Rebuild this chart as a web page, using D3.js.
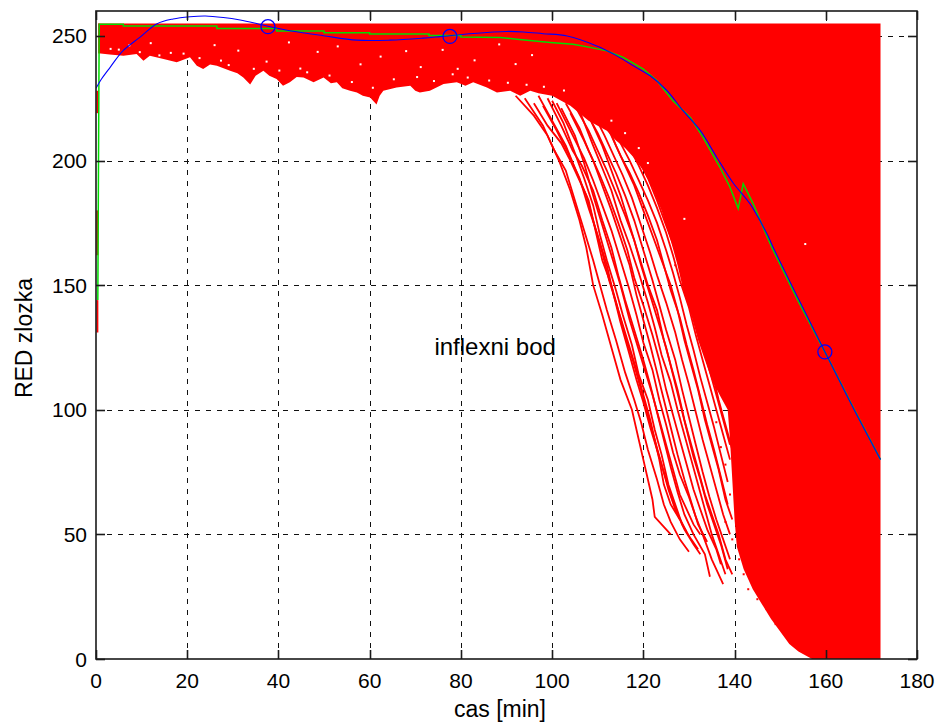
<!DOCTYPE html>
<html>
<head>
<meta charset="utf-8">
<script src="https://cdn.jsdelivr.net/npm/d3@7"></script>
<style>
  html, body { margin: 0; padding: 0; background: #ffffff; }
  svg { display: block; }
  text { font-family: "Liberation Sans", Arial, Helvetica, sans-serif; fill: #000; }
</style>
</head>
<body>
<svg id="chart" width="941" height="724"></svg>
<script>
// ---------------- data ----------------
const xTicks = [0, 20, 40, 60, 80, 100, 120, 140, 160, 180];
const yTicks = [0, 50, 100, 150, 200, 250];
const xLabel = "cas [min]";
const yLabel = "RED zlozka";
const annotation = { text: "inflexni bod", x: 74.2, y: 122 };

// upper edge of the red bundle (saturated value)
const bundleTop = 255;
const bundleStart = 0.5;
// lower envelope of the dense red bundle [time, value]
const bundleLower = [
  [0.5,243],[3,242.5],[6,242],[8.9,242.7],[10.4,240],[11.8,242],[14.8,240.7],[17.7,239.4],
  [20.6,241.4],[22.1,238],[23.5,236.7],[25,238.5],[26.5,238],[29.4,236],[31,235],[32.3,233.3],
  [33.8,230.5],[35,234],[36.7,236],[38,234],[39.6,232.7],[41,230],[42.5,231.4],[44,233.5],
  [45.5,233.3],[47.7,231.4],[49.9,233.3],[51.5,231],[52.8,231.4],[54,229],[55.7,228],[57.2,227.3],
  [58.5,226],[60.1,225.3],[61.5,222.5],[62.2,226],[63,228],[65.9,229.3],[68.9,230],[70,228],
  [71,227.3],[73.2,228],[76.2,230.7],[79.1,231.4],[81,230],[82.7,231.4],[85.7,229.3],[87.9,227.3],
  [90.8,228],[93,226],[95.2,228],[97,227],[100,226],[102,224],[104,222],[106,219],[108,216],
  [110,214],[112,212],[114,208],[116,205],[118,201],[120,196],[122,189],[124,180],[126,168],
  [127.5,158],[129,146],[130.5,138],[132,128],[133.5,120],[135,112],[137,105],
  [138.5,100],[139,88],[139.5,72],[140,56],[140.5,45],[142,36],[144,28],[146,22],[148,16],
  [150,11],[152,6],[154,3],[156,1],[157,0],[172,0]
];
// start-up jumps of individual red series at t≈0
const startSegments = [[228,219],[180,162],[144,131]];

// individual red series that leave the bundle early
const trace1  = [[92,226],[96,218],[99,210],[101.5,200],[104,188],[106,176],[107.5,165],[109,150],[111,138],[113,125],[115,112],[117.5,100],[119,88],[120,80],[121,72],[122,64],[122.5,57],[124.5,53],[126,50]];
const trace2  = [[94,225],[98,214],[100.5,204],[103,196],[105,184],[107,172],[109,160],[110.5,150],[112,140],[114,128],[116,115],[118,104],[119.5,95],[121,84],[123,72],[124.5,62],[126,55],[128,48],[130,43]];
const trace3  = [[97,226],[100,216],[103,206],[105,197],[107.5,186],[109,176],[111,163],[112.5,152],[114,143],[116,130],[118,118],[119.5,108],[121,98],[122.5,88],[124,78],[125.5,68],[127,60],[129,52],[131,46],[132.5,42]];
const trace4  = [[99,225],[102,214],[104.5,204],[106.5,198],[109,188],[111,176],[113,165],[114.5,154],[116,144],[118,132],[120,120],[121.5,110],[123,99],[124.5,88],[126,77],[127.5,67],[129,58],[131,50],[133.5,42],[134.6,33]];
const trace5  = [[101,223],[104,212],[107,201],[109,192],[111,182],[113,172],[115,160],[117,148],[118.5,138],[120,127],[122,116],[123.5,104],[125,94],[126.5,83],[128,74],[130,65],[131.5,57],[133,50],[135,40],[137.5,30]];
const trace6  = [[103,223],[106,213],[108,204],[110.5,194],[112.5,185],[114.5,175],[116.5,164],[118,153],[120,142],[122,130],[123.5,120],[125,108],[126.5,98],[128,88],[129.5,78],[131,68],[132.5,60],[134,52],[136,44],[137,38]];
const trace7  = [[105,222],[108,212],[110,204],[112,196],[114,187],[116,178],[118,168],[119.5,158],[121,149],[123,137],[125,125],[126.5,114],[128,103],[129.5,92],[131,81],[132.5,72],[134,62],[135.5,54],[137,46],[138.5,36]];
const trace8  = [[107,221],[110,211],[112,203],[114,195],[116,186],[118,176],[120,164],[122,152],[123.5,142],[125,132],[127,120],[128.5,108],[130,97],[131.5,86],[133,75],[134.5,65],[136,56],[137.5,48],[139,40]];
const trace9  = [[109,219],[111.5,210],[113.5,202],[115.5,194],[117.5,185],[119.5,174],[121.5,163],[123,154],[125,143],[127,131],[128.5,120],[130,110],[131.5,99],[133,88],[134.5,78],[136,68],[137.5,58],[139,50]];
const trace10 = [[111,217],[113,210],[115,202],[117,195],[119,187],[121,178],[123,168],[124.5,158],[126,148],[128,137],[129.5,126],[131,116],[132.5,105],[134,94],[135.5,84],[137,73],[138.5,62]];
const trace11 = [[113,214],[115,207],[117,200],[119,192],[121,184],[123,175],[125,164],[126.5,155],[128,145],[129.5,134],[131,124],[132.5,113],[134,103],[135.5,93],[137,82],[138.5,71]];
const trace12 = [[115,212],[117,205],[119,198],[121,190],[123,181],[125,171],[126.5,162],[128,152],[130,141],[131.5,130],[133,120],[134.5,110],[136,100],[137.5,90],[139,80]];
const trace13 = [[98,222],[101,212],[103.5,203],[106,193],[108,181],[110,170],[112,158],[113.5,146],[115,135],[117,122],[118.5,112],[120,103],[121.5,93],[123,84],[124.5,75],[126,66],[127.5,58],[129.5,51]];
const trace14 = [[104,219],[107,208],[109,200],[111,190],[113,180],[115,169],[117,158],[118.5,146],[120,136],[121.5,126],[123,115],[124.5,104],[126,93],[127.5,82],[129,72],[130.5,63],[132,54],[134,47]];
const trace15 = [[100,224],[102.5,215],[105,203],[107,193],[109,182],[110.5,170],[112,160],[114,148],[115.5,138],[117.5,126],[119,114],[121,104],[122.5,92],[124,82],[125.5,70],[127,62],[128.5,54],[130.5,48],[132,44]];
const trace16 = [[106,220],[109,206],[111,197],[113,188],[115,176],[117,166],[119,155],[121,143],[122.5,133],[124,122],[126,111],[127.5,100],[129,90],[130.5,80],[132,70],[133.5,60],[135,50],[136.5,42],[138,34]];
const trace17 = [[112,215],[114,206],[116,198],[118,190],[120,180],[122,170],[124,160],[126,150],[127.5,140],[129,128],[130.5,118],[132,108],[133.5,96],[135,86],[136.5,76],[138,64],[139.5,56]];
const trace18 = [[117,208],[119,200],[121,193],[123,184],[125,174],[127,164],[128.5,154],[130,145],[131.5,136],[133,126],[134.5,116],[136,106],[137.5,96],[139,86]];
const trace19 = [[102,221],[105,210],[107,199],[109,186],[111,174],[113,162],[115,150],[117,136],[119,124],[120.5,115],[122,106],[123.5,96],[125,86],[126.5,76],[128,66],[129.5,60],[131,54],[132.5,50]];
const trace20 = [[96,223],[99,214],[102,207],[104,200],[106,192],[108,184],[109.5,172],[111,160],[113,150],[114.5,140],[116.5,128],[118.5,116],[120,106],[121.5,96],[122.5,88],[123.5,80],[124.5,70],[126,62],[128,56]];
const trace21 = [[108,218],[111,206],[113,196],[115,186],[117,174],[119,162],[121,150],[123,140],[124.5,128],[126,118],[127.5,108],[129,96],[130.5,86],[132,76],[133.5,66],[135,58],[136.5,50],[138,40],[139.5,34]];
const trace22 = [[119,204],[121,197],[123,189],[125,180],[127,170],[129,160],[130.5,150],[132,140],[133.5,128],[135,116],[136.5,104],[138,94],[139.5,84]];
const traces = [trace1, trace2, trace3, trace4, trace5, trace6, trace7, trace8, trace9, trace10, trace11,
  trace12, trace13, trace14, trace15, trace16, trace17, trace18, trace19, trace20, trace21, trace22];

// isolated red samples next to the bundle
const redDots = [[126,172],[128,168],[131,160],[127,158],[130,148],[133,150],[132,135],[135,132],[134,122],
  [136,118],[136,95],[137,85],[138,78],[139,66],[138,55],[139.5,48],[141,40],[142,34],[143,28],[145,24],
  [147,20],[149,14],[151,10],[153,7],[155,4],[108,224],[112,222],[115,217],[118,212],[122,206],[124,200],[126,195]];
// gaps (white samples) inside the bundle
const holes = [[5,244.5],[7.3,246.2],[12,247.1],[16.4,243.2],[26,246.3],[31.2,244.1],[42.3,247.4],[48.6,243.6],
  [53,245.8],[58,238.6],[62.4,241.7],[68,243.9],[71.2,237.5],[76,244.4],[79.3,236.8],[83,240.2],[88.4,246.6],
  [92,238.7],[95.6,242.3],[27.4,240.1],[155.5,166.5],[129,176.6],[113,216],[116,211],[119,205],[121,199],
  [3.2,244.8],[9.6,243.5],[13.9,242.2],[19.2,242.9],[22.7,241.1],[29.1,238.3],[34.6,236.8],[37.4,239.7],
  [40.2,236.1],[44.8,236.9],[46.3,235.4],[51.2,234.1],[56.1,231.5],[60.7,229.2],[65.3,232.6],[70.4,233.5],
  [74.1,231.9],[78.2,234.6],[81.5,233.3],[86.2,232.1],[90.3,231.2],[94.4,230.4],[98.2,229.6],[102.6,228.1]];

// mean curve (green)
const meanCurve = [[0.4,144],[0.7,254.7],[6,254.7],[6,254],[26.5,254],[26.5,253],[39.6,253],[39.6,252],
  [50,252],[50,251.3],[60,251.3],[60,250.8],[73,250.8],[73,250.2],[80,250.2],[80,249.6],[88.6,249.4],
  [92.3,248.7],[99.6,247.4],[104.6,246.7],[108.3,245.4],[112,244],[115.6,241.4],[120,236.7],[123,232],
  [126.5,224],[130.3,217.3],[133.1,209.3],[136.8,197.3],[139,189.3],[140.8,180.7],[141.9,190.7],
  [144.1,182.6],[146.3,173],[148.2,165],[154,143.5],[160,122.5],[166,101],[172,80]];
// fitted curve (blue)
const fitCurve = [[0,229],[1.2,232.7],[3.1,237.4],[5.9,244],[9.6,249.4],[13.3,254.8],[16.9,256.8],[20.6,257.7],
  [24,258],[27.9,257.4],[31.6,256.4],[35.2,255],[38.2,253.7],[42.5,252.1],[49.8,250.1],[57.2,248.3],
  [64.5,248.3],[71.7,249.1],[75.4,249.7],[82.7,251],[90,251.8],[93.7,251.6],[98,250.9],[103.3,250],
  [109.8,246],[114.2,242],[117.8,238],[121.5,234],[125.2,228],[128.7,220],[132.5,212],[136.2,201],
  [139.7,191],[143.4,182.6],[147.1,170.6],[148.5,165],[154,144.5],[159.8,123.3],[166,100.8],[172,80]];
// highlighted points on the fit (blue circles)
const keyPoints = [[37.7,253.7],[77.6,249.8],[159.8,123.2]];

// ---------------- drawing ----------------
const svg = d3.select("#chart");
const L = 96, R = 917, T = 11, B = 659;
const x = d3.scaleLinear().domain([0, 180]).range([L, R]);
const y = d3.scaleLinear().domain([0, 260]).range([B, T]);

svg.append("rect").attr("width", 941).attr("height", 724).attr("fill", "#fff");

svg.append("defs").append("clipPath").attr("id", "clip")
  .append("rect").attr("x", L).attr("y", T).attr("width", R - L).attr("height", B - T);

// grid
const grid = svg.append("g").attr("stroke", "#111").attr("stroke-width", 1)
  .attr("stroke-dasharray", "5,6").attr("fill", "none");
xTicks.filter(t => t > 0 && t < 180).forEach(t => {
  grid.append("line").attr("x1", Math.round(x(t)) + 0.5).attr("x2", Math.round(x(t)) + 0.5)
    .attr("y1", B).attr("y2", T);
});
yTicks.filter(t => t > 0).forEach(t => {
  grid.append("line").attr("y1", Math.round(y(t)) + 0.5).attr("y2", Math.round(y(t)) + 0.5)
    .attr("x1", L).attr("x2", R);
});

const plot = svg.append("g").attr("clip-path", "url(#clip)");

// red bundle
const area = d3.area().x(d => x(d[0])).y0(d => y(d[1])).y1(y(bundleTop));
plot.append("path").datum(bundleLower).attr("d", area).attr("fill", "#ff0000");
plot.append("rect").attr("x", x(bundleStart)).attr("y", y(bundleTop))
  .attr("width", x(bundleLower[0][0]) - x(bundleStart) + 1).attr("height", y(bundleLower[0][1]) - y(bundleTop))
  .attr("fill", "#ff0000");

const line = d3.line().x(d => x(d[0])).y(d => y(d[1]));
plot.selectAll(".trace").data(traces).join("path").attr("class", "trace")
  .attr("d", line).attr("fill", "none").attr("stroke", "#ff0000").attr("stroke-width", 1.8);

plot.selectAll(".start").data(startSegments).join("line").attr("class", "start")
  .attr("x1", x(0.3)).attr("x2", x(0.3)).attr("y1", d => y(d[0])).attr("y2", d => y(d[1]))
  .attr("stroke", "#ff0000").attr("stroke-width", 2);

plot.selectAll(".rdot").data(redDots).join("rect").attr("class", "rdot")
  .attr("x", d => x(d[0]) - 1).attr("y", d => y(d[1]) - 1).attr("width", 2).attr("height", 2).attr("fill", "#ff0000");
plot.selectAll(".hole").data(holes).join("rect").attr("class", "hole")
  .attr("x", d => x(d[0]) - 1).attr("y", d => y(d[1]) - 1).attr("width", 2).attr("height", 2).attr("fill", "#fff");

// mean (green) and fit (blue)
plot.append("path").datum(meanCurve).attr("d", line).attr("fill", "none")
  .attr("stroke", "#00dd00").attr("stroke-width", 1.5);
plot.append("path").datum(fitCurve).attr("d", line.curve(d3.curveCatmullRom)).attr("fill", "none")
  .attr("stroke", "#0000ff").attr("stroke-width", 1.1);
plot.selectAll(".kp").data(keyPoints).join("circle").attr("class", "kp")
  .attr("cx", d => x(d[0])).attr("cy", d => y(d[1])).attr("r", 7)
  .attr("fill", "none").attr("stroke", "#0000ff").attr("stroke-width", 1.3);

// axes box and ticks
const ax = svg.append("g").attr("stroke", "#1a1a1a").attr("stroke-width", 1.6).attr("fill", "none");
ax.append("rect").attr("x", L).attr("y", T).attr("width", R - L).attr("height", B - T);
const tl = 9;
xTicks.forEach(t => {
  const px = Math.round(x(t)) + 0.5;
  ax.append("line").attr("x1", px).attr("x2", px).attr("y1", B).attr("y2", B - tl);
  ax.append("line").attr("x1", px).attr("x2", px).attr("y1", T).attr("y2", T + tl);
});
yTicks.forEach(t => {
  const py = Math.round(y(t)) + 0.5;
  ax.append("line").attr("y1", py).attr("y2", py).attr("x1", L).attr("x2", L + tl);
  ax.append("line").attr("y1", py).attr("y2", py).attr("x1", R).attr("x2", R - tl);
});

// tick labels
svg.append("g").selectAll("text").data(xTicks).join("text")
  .attr("x", d => x(d)).attr("y", 688).attr("text-anchor", "middle")
  .attr("font-size", 21).text(d => d);
svg.append("g").selectAll("text").data(yTicks).join("text")
  .attr("x", 87).attr("y", d => y(d)).attr("dy", "0.36em").attr("text-anchor", "end")
  .attr("font-size", 21).text(d => d);

// axis labels
svg.append("text").attr("x", 500).attr("y", 717).attr("text-anchor", "middle")
  .attr("font-size", 23).text(xLabel);
svg.append("text").attr("transform", "translate(32,338) rotate(-90)").attr("text-anchor", "middle")
  .attr("font-size", 23).text(yLabel);

// annotation
svg.append("text").attr("x", x(annotation.x)).attr("y", y(annotation.y))
  .attr("font-size", 24).text(annotation.text);
</script>
</body>
</html>
